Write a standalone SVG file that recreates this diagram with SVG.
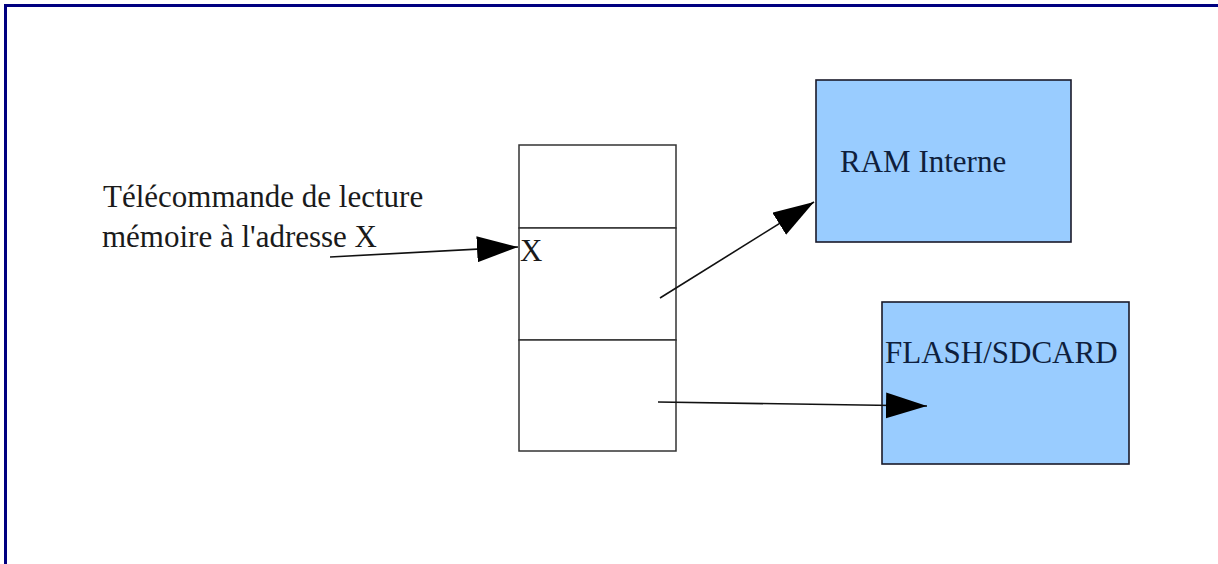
<svg xmlns="http://www.w3.org/2000/svg" width="1218" height="564" viewBox="0 0 1218 564">
  <style>
    .frame { stroke: #000080; stroke-width: 3; fill: none; }
    .cell { fill: #ffffff; stroke: #333333; stroke-width: 1.5; }
    .mem { fill: #99ccff; stroke: #1a1a2a; stroke-width: 1.6; }
    .lbl { font-family: "Liberation Serif", "Times New Roman", serif; font-size: 31px; fill: #1a1a1a; }
    .lbl-blue { font-family: "Liberation Serif", "Times New Roman", serif; font-size: 31px; fill: #0f1f3d; }
    .wire { stroke: #111111; stroke-width: 1.6; fill: none; marker-end: url(#head); }
  </style>
  <defs>
    <marker id="head" markerUnits="userSpaceOnUse" markerWidth="44" markerHeight="28" refX="41" refY="13" orient="auto">
      <path d="M0,0 L41,13 L0,26 Z" fill="#000000"/>
    </marker>
  </defs>

  <rect width="1218" height="564" fill="#ffffff"/>
  <!-- page frame: top and left edges -->
  <path class="frame" d="M5.5,564 L5.5,5.5 L1218,5.5"/>

  <!-- address table -->
  <g id="table">
    <rect class="cell" x="519" y="145" width="157" height="83"/>
    <rect class="cell" x="519" y="228" width="157" height="112"/>
    <rect class="cell" x="519" y="340" width="157" height="111"/>
    <text class="lbl" x="520" y="261">X</text>
  </g>

  <g id="command">
    <text class="lbl" x="103" y="207">Télécommande de lecture</text>
    <text class="lbl" x="102" y="247">mémoire à l'adresse X</text>
  </g>

  <g id="ram">
    <rect class="mem" x="816" y="80" width="255" height="162"/>
    <text class="lbl-blue" x="840" y="172">RAM Interne</text>
  </g>

  <g id="flash">
    <rect class="mem" x="882" y="302" width="247" height="162"/>
    <text class="lbl-blue" x="885" y="363">FLASH/SDCARD</text>
  </g>

  <g id="connectors">
    <line class="wire" x1="330" y1="257" x2="518" y2="247"/>
    <line class="wire" x1="660" y1="298" x2="814" y2="202"/>
    <line class="wire" x1="658" y1="402" x2="927" y2="406"/>
  </g>
</svg>
